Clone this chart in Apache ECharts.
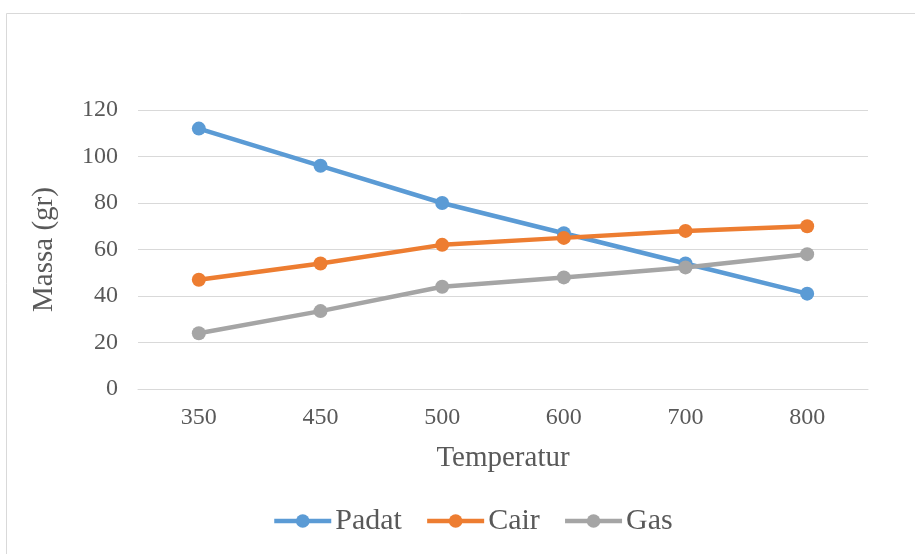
<!DOCTYPE html>
<html>
<head>
<meta charset="utf-8">
<script src="https://cdn.jsdelivr.net/npm/echarts@6/dist/echarts.min.js"></script>
<style>
html,body{margin:0;padding:0;background:#fff;}
#chart{width:915px;height:554px;}
</style>
</head>
<body>
<div id="chart"></div>
<script>
var categories = ['350', '450', '500', '600', '700', '800'];
var padat = [112, 96, 80, 67, 54, 41];
var cair = [47, 54, 62, 65, 68, 70];
var gas = [24, 33.5, 44, 48, 52.3, 58];
var seriesNames = ['Padat', 'Cair', 'Gas'];
var seriesColors = ['#5b9bd5', '#ed7d31', '#a5a5a5'];

var FONT = '"Liberation Serif", "Times New Roman", serif';
var chart = echarts.init(document.getElementById('chart'), null, {renderer: 'canvas'});

function mkSeries(name, data, color) {
  return {
    name: name,
    type: 'line',
    data: data,
    symbol: 'circle',
    symbolSize: 14,
    lineStyle: {width: 4.5, color: color},
    itemStyle: {color: color},
    animation: false
  };
}

chart.setOption({
  backgroundColor: '#ffffff',
  animation: false,
  textStyle: {fontFamily: FONT},
  grid: {left: 138, right: 47, top: 110, bottom: 165},
  graphic: [
    {type: 'line', shape: {x1: 6.5, y1: 13.5, x2: 915, y2: 13.5}, style: {stroke: '#d9d9d9', lineWidth: 1}},
    {type: 'line', shape: {x1: 6.5, y1: 13.5, x2: 6.5, y2: 554}, style: {stroke: '#d9d9d9', lineWidth: 1}}
  ],
  legend: {
    data: seriesNames,
    top: 501,
    left: 267,
    itemWidth: 57,
    itemHeight: 17,
    itemGap: 23,
    lineStyle: {width: 4.5},
    textStyle: {fontFamily: FONT, fontSize: 30, color: '#595959', padding: [0, 0, 0, -1]}
  },
  xAxis: {
    type: 'category',
    data: categories,
    boundaryGap: true,
    name: 'Temperatur',
    nameLocation: 'middle',
    nameGap: 55,
    nameTextStyle: {fontFamily: FONT, fontSize: 29, color: '#595959'},
    axisLine: {show: true, lineStyle: {color: '#d9d9d9', width: 1}},
    axisTick: {show: false},
    axisLabel: {fontFamily: FONT, fontSize: 24, color: '#595959', margin: 17}
  },
  yAxis: {
    type: 'value',
    min: 0,
    max: 120,
    interval: 20,
    name: 'Massa (gr)',
    nameLocation: 'middle',
    nameGap: 79,
    nameRotate: 90,
    nameTextStyle: {fontFamily: FONT, fontSize: 29, color: '#595959'},
    axisLine: {show: false},
    axisTick: {show: false},
    splitLine: {lineStyle: {color: '#d9d9d9', width: 1}},
    axisLabel: {fontFamily: FONT, fontSize: 24, color: '#595959', margin: 20}
  },
  series: [
    mkSeries(seriesNames[0], padat, seriesColors[0]),
    mkSeries(seriesNames[1], cair, seriesColors[1]),
    mkSeries(seriesNames[2], gas, seriesColors[2])
  ]
});
</script>
</body>
</html>
